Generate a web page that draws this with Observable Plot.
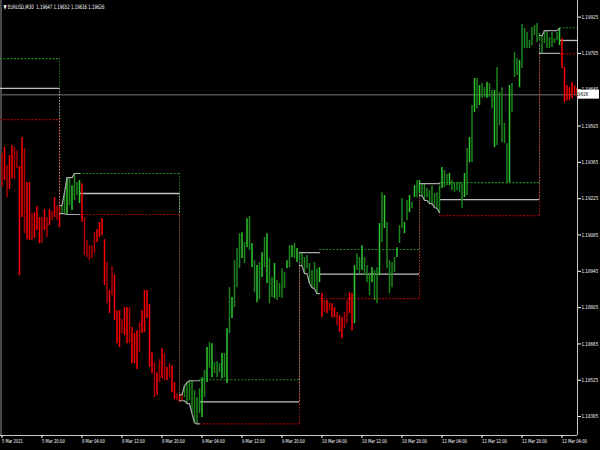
<!DOCTYPE html>
<html><head><meta charset="utf-8">
<script src="https://cdn.jsdelivr.net/npm/d3@7"></script>
<script src="https://cdn.jsdelivr.net/npm/@observablehq/plot@0.6"></script>
<style>
html,body{margin:0;padding:0;background:#000;}
#chart{width:600px;height:450px;overflow:hidden;}
</style></head><body><div id="chart"></div>
<script>
// ---- data ----
const symbol = "EURUSD,M30";
const lastOHLC = [1.19647, 1.19652, 1.19616, 1.19626];
const bidPrice = 1.19626;

const highs = [
 1.19399,1.19422,1.19353,1.19391,1.19430,1.19422,1.19410,1.19349,1.19461,1.19418,
 1.19287,1.19287,1.19167,1.19171,1.19194,1.19152,1.19152,1.19183,1.19152,1.19183,
 1.19175,1.19229,1.19198,1.19191,1.19198,1.19248,1.19306,1.19302,1.19275,1.19322,
 1.19287,1.19295,1.19283,1.19152,1.19063,1.19044,1.19044,1.19094,1.19106,1.19133,
 1.19148,1.19067,1.18979,1.18871,1.18963,1.18932,1.18793,1.18793,1.18759,1.18805,
 1.18805,1.18805,1.18728,1.18705,1.18716,1.18747,1.18793,1.18871,1.18871,1.18817,
 1.18631,1.18593,1.18554,1.18604,1.18647,1.18628,1.18574,1.18589,1.18581,1.18516,
 1.18473,1.18466,1.18469,1.18504,1.18516,1.18523,1.18523,1.18485,1.18458,1.18492,
 1.18535,1.18562,1.18651,1.18670,1.18666,1.18593,1.18597,1.18589,1.18628,1.18628,
 1.18724,1.18882,1.18844,1.18986,1.19033,1.19090,1.19094,1.19056,1.19148,1.19156,
 1.19052,1.18986,1.18967,1.18979,1.19017,1.19075,1.19090,1.18994,1.18921,1.18975,
 1.18909,1.18898,1.18955,1.18940,1.18986,1.19044,1.19044,1.19052,1.19033,1.19017,
 1.19017,1.18998,1.19006,1.18975,1.18948,1.18979,1.18955,1.18959,1.18859,1.18832,
 1.18832,1.18824,1.18820,1.18805,1.18786,1.18774,1.18766,1.18786,1.18832,1.18863,
 1.18859,1.18967,1.19013,1.18998,1.19044,1.18998,1.18967,1.18936,1.18959,1.18948,
 1.18959,1.19129,1.19248,1.19237,1.19133,1.18986,1.18979,1.18998,1.19036,1.19121,
 1.19225,1.19133,1.19218,1.19237,1.19210,1.19275,1.19295,1.19295,1.19283,1.19283,
 1.19264,1.19256,1.19275,1.19245,1.19248,1.19275,1.19345,1.19333,1.19318,1.19322,
 1.19295,1.19287,1.19287,1.19287,1.19283,1.19322,1.19418,1.19461,1.19584,1.19688,
 1.19688,1.19661,1.19669,1.19653,1.19673,1.19669,1.19642,1.19642,1.19731,1.19634,
 1.19653,1.19515,1.19437,1.19661,1.19669,1.19788,1.19765,1.19758,1.19896,1.19881,
 1.19866,1.19835,1.19885,1.19893,1.19900,1.19862,1.19854,1.19873,1.19873,1.19846,
 1.19866,1.19842,1.19866,1.19881,1.19842,1.19731,1.19661,1.19653,1.19673,1.19661,
 1.19652
];
const lows = [
 1.19268,1.19295,1.19229,1.19260,1.19302,1.19299,1.19341,1.18928,1.19152,1.19090,
 1.19067,1.19063,1.19063,1.19071,1.19102,1.19052,1.19052,1.19102,1.19075,1.19121,
 1.19140,1.19152,1.19140,1.19113,1.19167,1.19167,1.19164,1.19198,1.19179,1.19218,
 1.19237,1.19206,1.19133,1.19006,1.18998,1.18986,1.18994,1.19013,1.19056,1.19075,
 1.19083,1.18890,1.18820,1.18782,1.18851,1.18755,1.18666,1.18651,1.18705,1.18697,
 1.18666,1.18666,1.18589,1.18589,1.18566,1.18631,1.18705,1.18709,1.18763,1.18574,
 1.18550,1.18458,1.18466,1.18516,1.18531,1.18523,1.18523,1.18535,1.18477,1.18450,
 1.18446,1.18439,1.18446,1.18458,1.18435,1.18446,1.18396,1.18361,1.18357,1.18396,
 1.18381,1.18458,1.18516,1.18570,1.18535,1.18550,1.18535,1.18554,1.18531,1.18535,
 1.18512,1.18705,1.18763,1.18805,1.18882,1.18955,1.18994,1.18975,1.19036,1.19025,
 1.18959,1.18863,1.18824,1.18836,1.18921,1.18959,1.18898,1.18820,1.18844,1.18840,
 1.18832,1.18844,1.18840,1.18878,1.18955,1.18959,1.18998,1.18994,1.18979,1.18986,
 1.18967,1.18936,1.18955,1.18898,1.18882,1.18878,1.18859,1.18901,1.18766,1.18786,
 1.18782,1.18793,1.18766,1.18766,1.18736,1.18709,1.18685,1.18724,1.18743,1.18782,
 1.18716,1.18743,1.18948,1.18936,1.18948,1.18928,1.18901,1.18851,1.18901,1.18832,
 1.18820,1.18928,1.19056,1.19110,1.18955,1.18859,1.18882,1.18940,1.18998,1.19052,
 1.19110,1.19090,1.19140,1.19171,1.19187,1.19229,1.19229,1.19245,1.19237,1.19218,
 1.19229,1.19206,1.19206,1.19191,1.19187,1.19171,1.19264,1.19268,1.19275,1.19275,
 1.19256,1.19248,1.19256,1.19248,1.19187,1.19229,1.19237,1.19364,1.19364,1.19557,
 1.19572,1.19584,1.19611,1.19615,1.19611,1.19615,1.19572,1.19422,1.19430,1.19507,
 1.19441,1.19437,1.19283,1.19287,1.19557,1.19692,1.19700,1.19653,1.19727,1.19804,
 1.19804,1.19804,1.19815,1.19854,1.19827,1.19835,1.19785,1.19823,1.19804,1.19804,
 1.19808,1.19823,1.19835,1.19815,1.19727,1.19596,1.19603,1.19603,1.19611,1.19623,
 1.19616
];
// bar direction: u = close above open, d = close below open
const barDir = (
 "u d u d d u u d d u " + "d d u d d d u d u d " + "u d u d d d u d u d " +
 "d u d u u u u u d d " + "d d u d u d d d u d " + "d u d d d u d d d d " +
 "d u d u d u d u d d " + "u d u d d d d d d d " + "u d u d u d d d u d " +
 "u d u d d d u d u d " + "u d u d u d u d d u " + "d d d d u d u d u d " +
 "d d d d d d d u d u " + "d u d d u d d u u d " + "d u d d u d d d u d " +
 "d u d u d d d d u d " + "d u d u d u d u d d " + "d d d d d d u d d u " +
 "d d d d d u d u d u " + "d u d d u d d u d d " + "d d d u d d d u d d " +
 "d d d d d d d d d d " + "d d d u d d d d d d " + "d"
).trim().split(" ");
// trend colouring segments (first bar index of each segment)
const trendStart = [0, 24, 32, 73, 128, 141, 224];
const trendDir = ["down", "up", "down", "up", "down", "up", "down"];

// daily opening-range indicator
const dayStart = [0, 24, 72, 120, 168, 216];
const dayEnd = [23, 71, 119, 167, 215, 230];
const rangeHigh = [1.19765, 1.19322, 1.18527, 1.19029, 1.19287, 1.19884];
const rangeMid  = [1.19650, 1.19245, 1.18442, 1.18934, 1.19221, 1.19835];
const rangeLow  = [1.19530, 1.19164, 1.18357, 1.18840, 1.19160, 1.19783];
const rangeBars = 8;

// axes
const xTickIdx = [0,16,32,48,64,80,96,112,128,144,160,176,192,208,224];
const xTickLabels = ["5 Mar 2021","5 Mar 20:00","8 Mar 04:00","8 Mar 12:00","8 Mar 20:00",
 "9 Mar 04:00","9 Mar 12:00","9 Mar 20:00","10 Mar 04:00","10 Mar 12:00","10 Mar 20:00",
 "11 Mar 04:00","11 Mar 12:00","11 Mar 20:00","12 Mar 04:00"];
const yTicks = [1.19925,1.19785,1.19645,1.19505,1.19365,1.19225,1.19085,1.18945,1.18805,1.18665,1.18525,1.18385];

// ---- build ----
const xMin = -0.6, xMax = 230.2;
const yMin = 1.18312, yMax = 1.19989;
const FONT = "'Liberation Sans Narrow','DejaVu Sans Condensed','Liberation Sans',sans-serif";

function trendOf(i){ let t = trendDir[0]; trendStart.forEach((s,k)=>{ if (i >= s) t = trendDir[k]; }); return t; }
const bars = highs.map((h,i)=>({i, high:h, low:lows[i], dir:barDir[i], trend:trendOf(i)}));
const barColor = d => d.trend === "down"
  ? (d.dir === "d" ? "#ff0000" : "#b00000")
  : (d.dir === "u" ? "#2ec82e" : "#1c861c");

const levels = dayStart.map((s,d)=>({
  d, x1: d === 0 ? xMin : s + rangeBars - 1, x2: d === dayStart.length-1 ? xMax : dayEnd[d],
  hi: rangeHigh[d], mid: rangeMid[d], lo: rangeLow[d]
}));
const running = [];
const connectors = [];
dayStart.forEach((s,d)=>{
  if (d === 0) return;
  let rh = -Infinity, rl = Infinity;
  const pts = [];
  for (let k = 0; k < rangeBars; k++) {
    rh = Math.max(rh, highs[s+k]); rl = Math.min(rl, lows[s+k]);
    pts.push({x: s+k, hi: rh, lo: rl, mid: (rh+rl)/2});
  }
  pts.unshift({x: dayEnd[d-1], hi: pts[0].hi, lo: pts[0].lo, mid: pts[0].mid});
  pts.forEach(p => running.push({...p, d}));
  connectors.push({x: dayEnd[d-1], hi1: rangeHigh[d-1], hi2: pts[0].hi,
    mid1: rangeMid[d-1], mid2: pts[0].mid, lo1: rangeLow[d-1], lo2: pts[0].lo});
});

const header = `\u25BC ${symbol}  ${lastOHLC.map(v=>v.toFixed(5)).join(" ")}`;

const plot = Plot.plot({
  width: 600, height: 450,
  marginLeft: 0, marginRight: 23, marginTop: 0, marginBottom: 15,
  style: {background: "#000", color: "#fff", fontFamily: FONT, fontSize: "6px"},
  x: {domain: [xMin, xMax], axis: null},
  y: {domain: [yMin, yMax], axis: null},
  color: {type: "identity"},
  marks: [
    Plot.ruleX([xMin], {dx: 0.5, stroke: "#7a7a7a", strokeWidth: 1.2}),
    Plot.ruleY([bidPrice], {stroke: "#505050", strokeWidth: 1.5}),
    Plot.ruleX(connectors, {x: "x", y1: "hi1", y2: "hi2", stroke: "#1d7a1d", strokeDasharray: "1.5,1.5"}),
    Plot.ruleX(connectors, {x: "x", y1: "mid1", y2: "mid2", stroke: "#9a9a9a", strokeDasharray: "1.5,1.5"}),
    Plot.ruleX(connectors, {x: "x", y1: "lo1", y2: "lo2", stroke: "#9a1010", strokeDasharray: "1.5,1.5"}),
    Plot.ruleY(levels, {y: "hi", x1: "x1", x2: "x2", stroke: "#1f8a1f", strokeDasharray: "2,1.5", strokeWidth: 1.2}),
    Plot.ruleY(levels, {y: "lo", x1: "x1", x2: "x2", stroke: "#a00000", strokeDasharray: "2,1.5", strokeWidth: 1.2}),
    Plot.ruleY(levels, {y: "mid", x1: "x1", x2: "x2", stroke: "#c0c0c0", strokeWidth: 1.3}),
    Plot.ruleX(bars, {x: "i", y1: "low", y2: "high", stroke: barColor, strokeWidth: 1.5}),
    Plot.line(running, {x: "x", y: "hi", z: "d", stroke: "#a8a8a8", strokeWidth: 1.2}),
    Plot.line(running, {x: "x", y: "lo", z: "d", stroke: "#a8a8a8", strokeWidth: 1.2}),
    Plot.ruleY([yMin], {stroke: "#c8c8c8"}),
    Plot.ruleX([xMax], {stroke: "#c8c8c8"}),
    Plot.axisY(yTicks, {anchor: "right", tickSize: 3, tickPadding: 1, tickFormat: d => d.toFixed(5),
      fontSize: 5.5, fontFamily: FONT, textAnchor: "start"}),
    Plot.axisX(xTickIdx, {anchor: "bottom", tickSize: 3, tickPadding: 1,
      tickFormat: d => xTickLabels[xTickIdx.indexOf(d)], textAnchor: "start", dx: 0,
      fontSize: 5.5, fontFamily: FONT}),
    Plot.text([header], {frameAnchor: "top-left", dx: 3, dy: 4, fill: "#fff", fontSize: 6, fontFamily: FONT, textAnchor: "start"})
  ]
});

const svg = d3.select(plot);
// condense label widths to match the terminal's narrow font
svg.selectAll('g[aria-label="y-axis tick label"] text')
  .attr("textLength", function(){ return this.textContent.length * 2.4; })
  .attr("lengthAdjust", "spacingAndGlyphs");
svg.selectAll('g[aria-label="x-axis tick label"] text')
  .attr("textLength", function(){ return this.textContent.length * 2.08; })
  .attr("lengthAdjust", "spacingAndGlyphs");
svg.selectAll('g[aria-label="text"] text')
  .attr("textLength", 101)
  .attr("lengthAdjust", "spacingAndGlyphs");

// bid price label box on the right axis
const yb = plot.scale("y").apply(bidPrice);
const xb = plot.scale("x").apply(xMax);
const g = svg.append("g");
g.append("rect").attr("x", xb + 1).attr("y", yb - 4.5).attr("width", 21).attr("height", 9).attr("fill", "#fff");
g.append("text").attr("x", xb + 3).attr("y", yb).attr("dy", "0.35em").attr("fill", "#000")
  .attr("font-size", 5.5).attr("font-family", FONT)
  .attr("textLength", 16.8).attr("lengthAdjust", "spacingAndGlyphs")
  .text(bidPrice.toFixed(5));

document.getElementById("chart").append(plot);
</script></body></html>
